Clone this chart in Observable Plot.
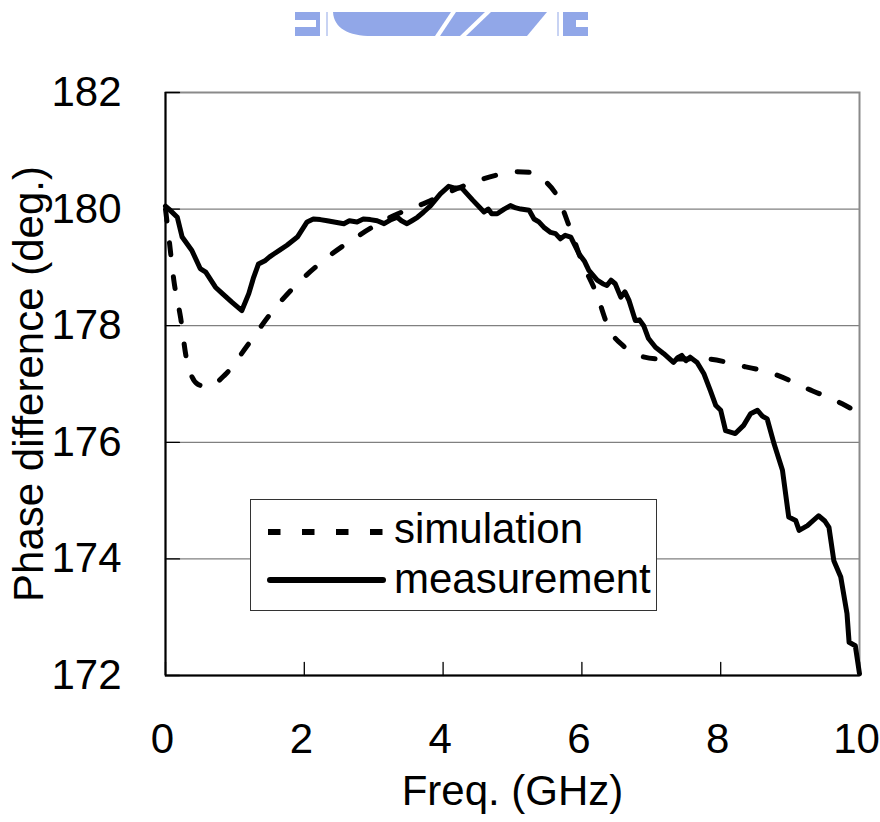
<!DOCTYPE html>
<html><head><meta charset="utf-8">
<script src="https://cdn.jsdelivr.net/npm/d3@7"></script>
<script src="https://cdn.jsdelivr.net/npm/@observablehq/plot@0.6"></script>
<style>
html,body{margin:0;padding:0;background:#fff;}
#wrap{position:relative;width:880px;height:822px;font-family:"Liberation Sans",Arial,sans-serif;}
#wm{position:absolute;left:0;top:0;}
#legend{position:absolute;left:250px;top:499px;width:407px;height:112px;box-sizing:border-box;border:1px solid #333;background:#fff;}
#legend svg{position:absolute;left:-1px;top:-1px;}
</style></head><body>
<div id="wrap">
<svg id="wm" width="880" height="60">
  <g fill="#91a7e8">
    <rect x="295" y="12" width="25" height="24"/>
    <rect x="326" y="12" width="2" height="24" opacity="0.5"/>
    <path d="M333,12 C334,28 348,36 372,36 L527,36 L547,12 Z"/>
    <rect x="557" y="12" width="2" height="24" opacity="0.5"/>
    <rect x="563" y="12" width="25" height="24"/>
  </g>
  <g fill="#fff">
    <rect x="295" y="20" width="21" height="7"/>
    <rect x="576" y="20" width="12" height="7"/>
    <path d="M451,12 L456,12 L440,36 L435,36 Z"/>
    <path d="M485,12 L491,12 L466,36 L460,36 Z"/>
  </g>
</svg>
</div>
<script>
// ---- data ----
const xTicks = [0, 2, 4, 6, 8, 10];
const yTicks = [172, 174, 176, 178, 180, 182];
const gridVals = [174, 176, 178, 180];

const seriesNames = ["simulation", "measurement"];

const simFreq  = [0.00, 0.05, 0.12, 0.22, 0.30, 0.46, 0.60, 0.86, 1.18, 1.51, 1.85, 2.31, 2.79, 3.24, 3.77, 4.30, 4.76, 5.00, 5.26, 5.45, 5.64, 5.84, 6.00, 6.21, 6.39, 6.60, 6.82, 7.10, 7.78, 8.26, 8.77, 9.25, 9.75, 10.00];
const simPhase = [180.0, 179.5, 178.78, 178.12, 177.45, 177.0, 176.95, 177.16, 177.66, 178.20, 178.66, 179.15, 179.55, 179.86, 180.12, 180.40, 180.58, 180.64, 180.63, 180.5, 180.23, 179.63, 179.10, 178.55, 177.95, 177.65, 177.49, 177.43, 177.43, 177.32, 177.17, 176.92, 176.66, 176.5];

const measFreq  = [0.00, 0.05, 0.17, 0.24, 0.38, 0.50, 0.58, 0.72, 0.82, 0.96, 1.10, 1.20, 1.27, 1.34, 1.44, 1.50, 1.56, 1.65, 1.75, 1.90, 2.04, 2.13, 2.23, 2.33, 2.43, 2.57, 2.65, 2.76, 2.85, 2.95, 3.05, 3.15, 3.25, 3.34, 3.40, 3.48, 3.55, 3.63, 3.72, 3.82, 3.96, 4.08, 4.17, 4.27, 4.43, 4.59, 4.65, 4.70, 4.78, 4.88, 4.97, 5.05, 5.12, 5.24, 5.31, 5.38, 5.45, 5.55, 5.62, 5.69, 5.76, 5.84, 5.96, 6.04, 6.10, 6.22, 6.30, 6.36, 6.42, 6.48, 6.56, 6.62, 6.68, 6.77, 6.83, 6.89, 6.96, 7.06, 7.18, 7.32, 7.38, 7.44, 7.50, 7.56, 7.66, 7.76, 7.85, 7.93, 8.00, 8.07, 8.21, 8.33, 8.43, 8.53, 8.60, 8.67, 8.77, 8.89, 8.98, 9.08, 9.13, 9.25, 9.41, 9.50, 9.56, 9.63, 9.73, 9.82, 9.85, 9.94, 10.00];
const measPhase = [180.05, 180.0, 179.86, 179.52, 179.29, 178.98, 178.92, 178.66, 178.55, 178.40, 178.26, 178.55, 178.83, 179.06, 179.12, 179.18, 179.23, 179.30, 179.38, 179.52, 179.78, 179.83, 179.82, 179.80, 179.78, 179.75, 179.80, 179.78, 179.83, 179.82, 179.80, 179.75, 179.82, 179.86, 179.80, 179.75, 179.80, 179.86, 179.95, 180.06, 180.26, 180.39, 180.36, 180.36, 180.15, 179.95, 180.0, 179.92, 179.92, 180.0, 180.06, 180.02, 180.0, 179.98, 179.83, 179.78, 179.69, 179.60, 179.58, 179.49, 179.55, 179.52, 179.23, 179.10, 178.95, 178.78, 178.72, 178.69, 178.78, 178.72, 178.49, 178.58, 178.43, 178.09, 178.10, 178.00, 177.78, 177.63, 177.52, 177.37, 177.45, 177.49, 177.40, 177.46, 177.37, 177.17, 176.89, 176.63, 176.55, 176.20, 176.15, 176.29, 176.49, 176.55, 176.45, 176.40, 175.97, 175.52, 174.72, 174.66, 174.49, 174.57, 174.74, 174.65, 174.54, 173.97, 173.69, 173.06, 172.57, 172.51, 172.03];

const sim  = simFreq.map((f, i) => ({f, v: simPhase[i]}));
const meas = measFreq.map((f, i) => ({f, v: measPhase[i]}));

const FONT = "Liberation Sans, Arial, sans-serif";
const tickShape = {draw(ctx, l) { ctx.moveTo(0, 0); ctx.lineTo(0, -l); }};

const chart = Plot.plot({
  width: 880, height: 822,
  marginLeft: 165, marginRight: 21, marginTop: 92, marginBottom: 147,
  style: {fontFamily: FONT, fontSize: "42px", color: "#000", background: "transparent", overflow: "visible"},
  x: {domain: [0, 10], label: null},
  y: {domain: [172, 182], label: null},
  marks: [
    Plot.ruleY(gridVals, {stroke: "#808080", strokeWidth: 1.2}),
    Plot.frame({stroke: "#8a8a8a", strokeWidth: 2}),
    Plot.ruleX([0], {stroke: "#000", strokeWidth: 2}),
    Plot.ruleY([172], {stroke: "#000", strokeWidth: 2}),
    Plot.vector(yTicks, {y: d => d, frameAnchor: "left", length: 14, rotate: 90, anchor: "start", shape: tickShape, stroke: "#000", strokeWidth: 1.3}),
    Plot.vector(xTicks, {x: d => d, frameAnchor: "bottom", length: 13, rotate: 0, anchor: "start", shape: tickShape, stroke: "#000", strokeWidth: 1.3}),
    Plot.axisX({ticks: xTicks, tickSize: 0, tickPadding: 48, dx: -3, fontSize: 42, tickFormat: d => String(d), label: null}),
    Plot.axisY({ticks: yTicks, tickSize: 0, tickPadding: 44, fontSize: 42, tickFormat: d => String(d), label: null}),
    Plot.line(sim, {x: "f", y: "v", stroke: "#000", strokeWidth: 5, strokeDasharray: "12,22", curve: "monotone-x"}),
    Plot.line(meas, {x: "f", y: "v", stroke: "#000", strokeWidth: 5, strokeLinejoin: "round", strokeLinecap: "round"}),
    Plot.text(["Freq. (GHz)"], {text: d => d, frameAnchor: "bottom", textAnchor: "middle", lineAnchor: "top", dy: 100, fontSize: 42, fill: "#000"}),
    Plot.text(["Phase difference (deg.)"], {text: d => d, frameAnchor: "left", textAnchor: "middle", rotate: -90, lineAnchor: "top", dx: -152, fontSize: 42, fill: "#000"})
  ]
});
chart.style.position = "absolute";
chart.style.left = "0px";
chart.style.top = "0px";
const wrap = document.getElementById("wrap");
wrap.appendChild(chart);

// legend inside the plot area
const legend = document.createElement("div");
legend.id = "legend";
const lsvg = d3.create("svg").attr("width", 407).attr("height", 112);
const rows = [
  {name: seriesNames[0], dash: "12.5,21.5", cap: "butt", y: 33, base: 44},
  {name: seriesNames[1], dash: null, cap: "round", y: 81, base: 94}
];
rows.forEach(r => {
  lsvg.append("line").attr("x1", r.cap === "round" ? 20 : 18).attr("x2", 133)
    .attr("y1", r.y).attr("y2", r.y)
    .attr("stroke", "#000").attr("stroke-width", 6)
    .attr("stroke-linecap", r.cap)
    .attr("stroke-dasharray", r.dash);
  lsvg.append("text").attr("x", 144).attr("y", r.base)
    .attr("font-family", FONT).attr("font-size", 42).attr("fill", "#000")
    .text(r.name);
});
legend.appendChild(lsvg.node());
wrap.appendChild(legend);
</script>
</body></html>
